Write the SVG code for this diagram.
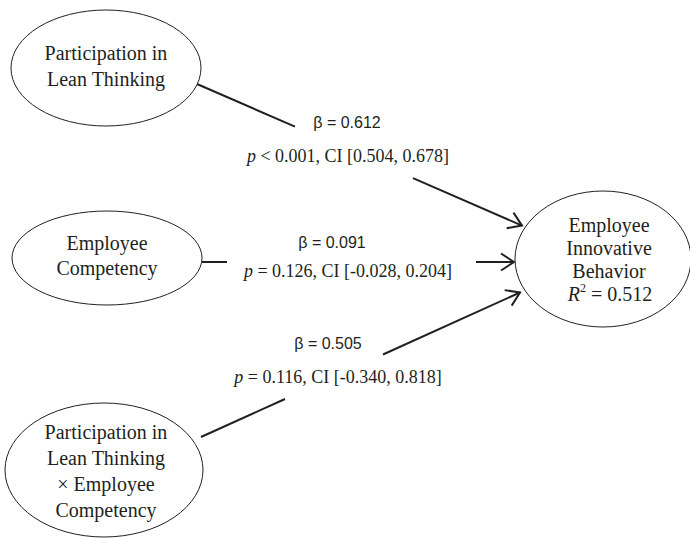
<svg xmlns="http://www.w3.org/2000/svg" width="690" height="538" viewBox="0 0 690 538">
<defs>
<style>
.node ellipse{fill:#fff;stroke:#231f20;stroke-width:1}
.nt{font-family:"Liberation Serif","Times New Roman",serif;font-size:20px;fill:#231f20;text-anchor:middle}
.beta{font-family:"Liberation Sans",Arial,sans-serif;font-size:16px;fill:#231f20;text-anchor:middle}
.stat{font-family:"Liberation Serif","Times New Roman",serif;font-size:18px;fill:#231f20;text-anchor:middle}
.conn line{stroke:#231f20;stroke-width:2;fill:none}
</style>
<marker id="arr" markerUnits="userSpaceOnUse" markerWidth="20" markerHeight="20" viewBox="-16 -10 20 20" refX="0" refY="0" orient="auto">
<path d="M-13,-8.5 L0,0 L-13,8.5" fill="none" stroke="#231f20" stroke-width="2"/>
</marker>
</defs>
<rect width="690" height="538" fill="#fff"/>
<g id="connectors" class="conn">
<line x1="197" y1="84" x2="295" y2="126.7"/>
<line x1="413" y1="178.1" x2="522" y2="225.6" marker-end="url(#arr)"/>
<line x1="202" y1="262" x2="227" y2="262"/>
<line x1="476" y1="262" x2="514" y2="262" marker-end="url(#arr)"/>
<line x1="201" y1="437" x2="285" y2="399"/>
<line x1="383" y1="354.5" x2="520" y2="292.5" marker-end="url(#arr)"/>
</g>
<g id="labels">
<text class="beta" x="347" y="128">β = 0.612</text>
<text class="stat" x="348" y="162"><tspan font-style="italic">p</tspan> &lt; 0.001, CI [0.504, 0.678]</text>
<text class="beta" x="332" y="248">β = 0.091</text>
<text class="stat" x="348" y="277"><tspan font-style="italic">p</tspan> = 0.126, CI [-0.028, 0.204]</text>
<text class="beta" x="328" y="349">β = 0.505</text>
<text class="stat" x="338" y="383"><tspan font-style="italic">p</tspan> = 0.116, CI [-0.340, 0.818]</text>
</g>
<g id="node-lean" class="node">
<ellipse cx="106" cy="68" rx="95" ry="58"/>
<text class="nt" x="106" y="60">Participation in</text>
<text class="nt" x="106" y="86">Lean Thinking</text>
</g>
<g id="node-competency" class="node">
<ellipse cx="107" cy="258" rx="95" ry="47"/>
<text class="nt" x="107" y="250">Employee</text>
<text class="nt" x="107" y="275">Competency</text>
</g>
<g id="node-interaction" class="node">
<ellipse cx="104" cy="470" rx="99" ry="67"/>
<text class="nt" x="106" y="439">Participation in</text>
<text class="nt" x="106" y="465">Lean Thinking</text>
<text class="nt" x="106" y="491">× Employee</text>
<text class="nt" x="106" y="517">Competency</text>
</g>
<g id="node-innovative" class="node">
<ellipse cx="603" cy="259" rx="88" ry="68"/>
<text class="nt" x="609" y="232">Employee</text>
<text class="nt" x="609" y="255">Innovative</text>
<text class="nt" x="609" y="278">Behavior</text>
<text class="nt" x="610" y="301"><tspan font-style="italic">R</tspan><tspan font-size="12" dy="-9">2</tspan><tspan dy="9"> = 0.512</tspan></text>
</g>
</svg>
